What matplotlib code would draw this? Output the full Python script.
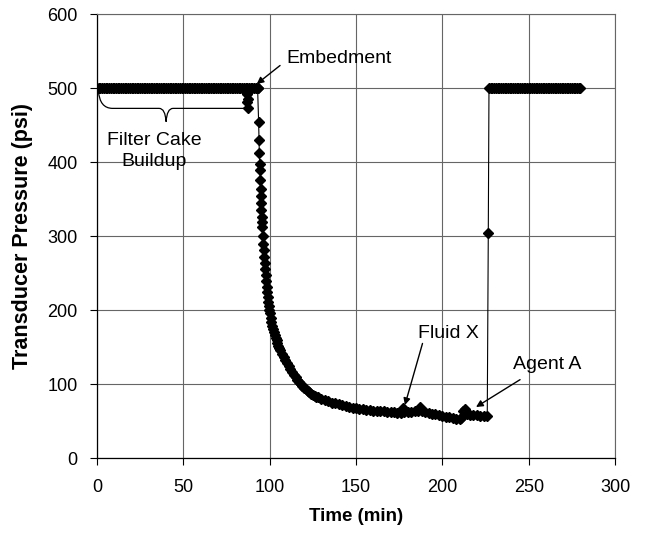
import matplotlib.pyplot as plt
import numpy as np
from matplotlib.path import Path
from matplotlib.patches import PathPatch

plt.rcParams['font.family'] = ['Liberation Sans', 'DejaVu Sans']

# holding at 500 psi while the filter cake builds
t_hold = np.arange(0, 94)
p_hold = [500] * len(t_hold)

# the few low readings near 87 min
t_dip = [86.7, 87.5, 86.9, 87.7]
p_dip = [493, 486, 481, 473]

# pressure drop after embedment
t_drop = [93.0, 93.6, 93.8, 94.0, 94.2, 94.4, 94.5, 94.7, 94.9, 95.0, 95.2, 95.4, 95.6, 95.8,
          96.0, 96.2, 96.5, 96.8, 97.1, 97.4, 97.7, 98.0, 98.3, 98.6, 98.9, 99.2, 99.5, 99.8]
p_drop = [500, 454, 430, 413, 398, 389, 376, 364, 355, 345, 335, 326, 319, 313,
          301, 290, 281, 272, 264, 256, 248, 240, 232, 225, 218, 211, 205, 200]

# slow decay, fluid X and agent A
t_decay = [100, 100.5, 101, 101.5, 102, 102.5, 103, 103.5, 104, 104.5, 105, 105.5, 106, 107,
           108, 109, 110, 111, 112, 113, 114, 115, 116, 117, 118, 119, 120, 121,
           122, 123, 124, 125, 126, 127, 128, 130, 132, 134, 136, 138, 140, 142, 144, 146,
           148, 150, 152, 154, 156, 158, 160, 162, 164, 166, 168, 170, 172, 174, 176,
           177, 178, 180, 182, 184, 186, 187, 188,
           190, 192, 194, 196, 198, 200, 202, 204, 206, 208, 210,
           211, 212, 213, 214, 216, 218, 220, 222, 224, 226]
p_decay = [196, 190, 184, 179, 174, 170, 166, 162, 159, 155, 152, 149, 146, 141,
           136, 132, 128, 124, 120, 116, 112, 109, 106, 103, 100, 97, 95, 93,
           91, 89, 87, 85, 84, 83, 82, 80, 78, 77, 75, 74, 73, 72, 71, 69,
           68, 67, 66, 66, 65, 65, 64, 64, 63, 63, 62, 62, 62, 61, 61,
           68, 62, 62, 62, 63, 63, 69, 64,
           62, 61, 60, 59, 58, 57, 56, 55, 54, 53, 53,
           54, 63, 66, 60, 58, 58, 58, 57, 57, 57]

# back up to 500
t_jump = [226.6]
p_jump = [305]
t_rec = np.arange(227, 281)
p_rec = [500] * len(t_rec)

t_all = np.concatenate([t_hold, t_drop, t_decay, t_jump, t_rec])
p_all = np.concatenate([p_hold, p_drop, p_decay, p_jump, p_rec])

fig = plt.figure(figsize=(6.52, 5.35), dpi=100)
ax = fig.add_axes([0.1488, 0.1439, 0.7945, 0.8290])

ax.plot(t_all, p_all, '-', color='black', lw=0.8, marker='D', ms=4.8, zorder=3)
ax.plot(t_dip, p_dip, 'D', color='black', ms=4.8, zorder=3)

ax.set_xlim(0, 300)
ax.set_ylim(0, 600)
ax.set_xticks(np.arange(0, 301, 50))
ax.set_yticks(np.arange(0, 601, 100))
ax.grid(True, color='0.4', lw=0.8)
ax.set_axisbelow(True)
for s in ['top', 'right']:
    ax.spines[s].set_color('0.4')
    ax.spines[s].set_linewidth(0.8)
for s in ['left', 'bottom']:
    ax.spines[s].set_color('black')
    ax.spines[s].set_linewidth(0.9)
ax.tick_params(direction='out', length=5, width=0.8, labelsize=13)
ax.tick_params(axis='x', pad=10)
ax.tick_params(axis='y', pad=9)

ax.set_xlabel('Time (min)', fontsize=13.5, fontweight='bold')
ax.set_ylabel('Transducer Pressure (psi)', fontsize=15.5, fontweight='bold')
ax.xaxis.set_label_coords(0.5, -0.113)
ax.yaxis.set_label_coords(-0.124, 0.5)

# brace under the holding period
verts = [(0.8, 497), (1.5, 473), (9, 473), (36, 473), (39.5, 473), (40, 455),
         (40.5, 473), (44, 473), (84.5, 473), (86.5, 473), (87, 478)]
codes = [Path.MOVETO, Path.CURVE3, Path.CURVE3, Path.LINETO, Path.CURVE3, Path.CURVE3,
         Path.CURVE3, Path.CURVE3, Path.LINETO, Path.CURVE3, Path.CURVE3]
ax.add_patch(PathPatch(Path(verts, codes), fill=False, color='black', lw=0.9, zorder=4))

ax.text(33, 415, 'Filter Cake\nBuildup', ha='center', va='center', fontsize=14,
        linespacing=1.3)
ax.text(109.8, 540, 'Embedment', ha='left', va='center', fontsize=14)
ax.text(203.4, 168.5, 'Fluid X', ha='center', va='center', fontsize=14)
ax.text(260.6, 127, 'Agent A', ha='center', va='center', fontsize=14)

arrow = dict(arrowstyle='-|>', color='black', lw=1, mutation_scale=10, shrinkA=0, shrinkB=0)
ax.annotate('', xy=(92.5, 506), xytext=(106, 531), arrowprops=arrow)
ax.annotate('', xy=(178.3, 71.6), xytext=(188.5, 155), arrowprops=arrow)
ax.annotate('', xy=(219.5, 69), xytext=(245, 106), arrowprops=arrow)

fig.savefig('out.png', dpi=100)
